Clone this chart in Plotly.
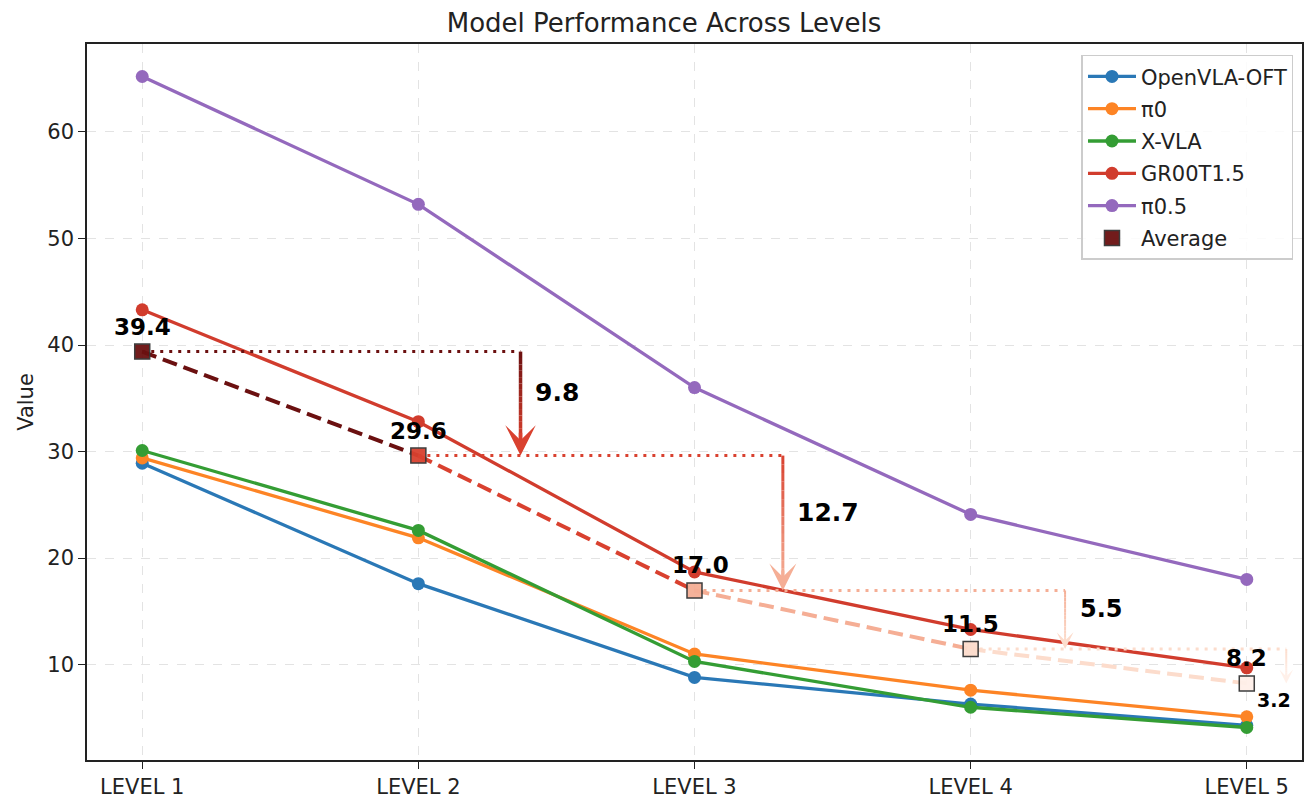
import plotly.graph_objects as go

# values
levels = ["LEVEL 1", "LEVEL 2", "LEVEL 3", "LEVEL 4", "LEVEL 5"]
openvla_oft = [28.9, 17.6, 8.8, 6.3, 4.3]
pi0 = [29.4, 21.9, 11.0, 7.6, 5.1]
x_vla = [30.1, 22.6, 10.3, 6.0, 4.1]
gr00t = [43.3, 32.8, 18.7, 13.3, 9.7]
pi05 = [65.2, 53.2, 36.0, 24.1, 18.0]

series = [
    ("OpenVLA-OFT", openvla_oft, "#2a78b6"),
    ("π0", pi0, "#fd8425"),
    ("X-VLA", x_vla, "#349d34"),
    ("GR00T1.5", gr00t, "#d13c2d"),
    ("π0.5", pi05, "#9469bd"),
]

xs = list(range(len(levels)))
avg = [sum(s[1][i] for s in series) / len(series) for i in xs]
drops = [avg[i] - avg[i + 1] for i in range(len(avg) - 1)]

# style: per-level reds for the average markers / connectors
avg_colors = ["#6b1010", "#d9412f", "#f5ae95", "#fcdccc", "#fff0e9"]
arrow_x = [1.37, 2.32, 3.342, 4.143]
arrow_w = [3.5, 3.0, 2.0, 2.0]
arrow_s = [1.45, 1.5, 1.4, 1.15]
drop_font = [25, 25, 24, 19]

DEJAVU = "DejaVu Sans"


def hex2rgb(h):
    h = h.lstrip("#")
    return tuple(int(h[k:k + 2], 16) for k in (0, 2, 4))


def mix(c1, c2, t):
    a, b = hex2rgb(c1), hex2rgb(c2)
    return "rgb(%d,%d,%d)" % tuple(round(a[k] + (b[k] - a[k]) * t) for k in range(3))


fig = go.Figure()

for name, vals, col in series:
    fig.add_trace(go.Scatter(
        x=xs, y=vals, name=name, mode="lines+markers",
        line=dict(color=col, width=3.3),
        marker=dict(color=col, size=13),
        legendgroup=name,
    ))

# dashed average connectors, one colour per segment
for i in range(len(xs) - 1):
    fig.add_trace(go.Scatter(
        x=[xs[i], xs[i + 1]], y=[avg[i], avg[i + 1]], mode="lines",
        line=dict(color=avg_colors[i], width=4, dash="15px,7px"),
        showlegend=False, hoverinfo="skip",
    ))

# dotted horizontal guides from each average to its arrow
for i in range(len(drops)):
    fig.add_trace(go.Scatter(
        x=[xs[i], arrow_x[i]], y=[avg[i], avg[i]], mode="lines",
        line=dict(color=avg_colors[i], width=3, dash="3px,6px"),
        showlegend=False, hoverinfo="skip",
    ))

# gradient arrow shafts
ypx = (759 - 44) / (68.25 - 1.05)
for i in range(len(drops)):
    head = 6 * arrow_w[i] * arrow_s[i] * 0.8
    y0, y1 = avg[i], avg[i + 1] + head / ypx * 0.6
    n = 14
    for k in range(n):
        ya = y0 + (y1 - y0) * k / n
        yb = y0 + (y1 - y0) * (k + 1) / n
        fig.add_trace(go.Scatter(
            x=[arrow_x[i], arrow_x[i]], y=[ya, yb], mode="lines",
            line=dict(color=mix(avg_colors[i], avg_colors[i + 1], (k + 0.5) / n), width=arrow_w[i]),
            showlegend=False, hoverinfo="skip",
        ))
    fig.add_annotation(
        x=arrow_x[i], y=avg[i + 1], ax=0, ay=-head, text="",
        showarrow=True, arrowhead=3, arrowsize=arrow_s[i], arrowwidth=arrow_w[i],
        arrowcolor=avg_colors[i + 1], standoff=0,
    )

# average markers
fig.add_trace(go.Scatter(
    x=xs, y=avg, name="Average", mode="markers",
    marker=dict(symbol="square", size=15, color=avg_colors, opacity=0.95,
                line=dict(color="#333333", width=1.5)),
))

# average value labels
for i in xs:
    fig.add_annotation(
        x=xs[i], y=avg[i], text=f"<b>{avg[i]:.1f}</b>", showarrow=False,
        yshift=25, xshift=6 if i == 2 else 0,
        font=dict(family=DEJAVU, size=23, color="black"),
    )

# drop labels
for i, d in enumerate(drops):
    last = i == len(drops) - 1
    fig.add_annotation(
        x=arrow_x[i] + (-0.045 if last else 0.045),
        y=avg[i + 1] - 1.6 if last else (avg[i] + avg[i + 1]) / 2 + 1.0,
        text=f"<b>{d:.1f}</b>", showarrow=False,
        xanchor="center" if last else "left",
        font=dict(family=DEJAVU, size=drop_font[i], color="black"),
    )

fig.update_layout(
    width=1312, height=802,
    margin=dict(l=79, r=18, t=36, b=50, autoexpand=False),
    paper_bgcolor="white", plot_bgcolor="white",
    font=dict(family=DEJAVU, size=21, color="#222222"),
    title=dict(text="Model Performance Across Levels", x=0.5, xanchor="center",
               y=0.982, yanchor="middle", font=dict(size=26, color="#222222")),
    legend=dict(x=0.993, y=0.985, xanchor="right", yanchor="top",
                bgcolor="rgba(255,255,255,0.85)", bordercolor="#cccccc", borderwidth=1.5,
                font=dict(size=21), itemwidth=48, tracegroupgap=2),
    showlegend=True,
)

fig.update_xaxes(
    range=[-0.2, 4.2], tickvals=xs, ticktext=levels,
    showline=True, mirror=True, linecolor="#222222", linewidth=1.5,
    ticks="outside", ticklen=7, tickcolor="#222222",
    showgrid=True, gridcolor="#e3e3e3", griddash="dash", gridwidth=1,
    zeroline=False, tickfont=dict(size=21), automargin=False,
)
fig.update_yaxes(
    range=[1.05, 68.25], tickvals=[10, 20, 30, 40, 50, 60],
    showline=True, mirror=True, linecolor="#222222", linewidth=1.5,
    ticks="outside", ticklen=7, tickcolor="#222222",
    showgrid=True, gridcolor="#e3e3e3", griddash="dash", gridwidth=1,
    zeroline=False, tickfont=dict(size=21), automargin=False,
    title=dict(text="Value", font=dict(size=21), standoff=8),
)

fig.write_html("out.html")
